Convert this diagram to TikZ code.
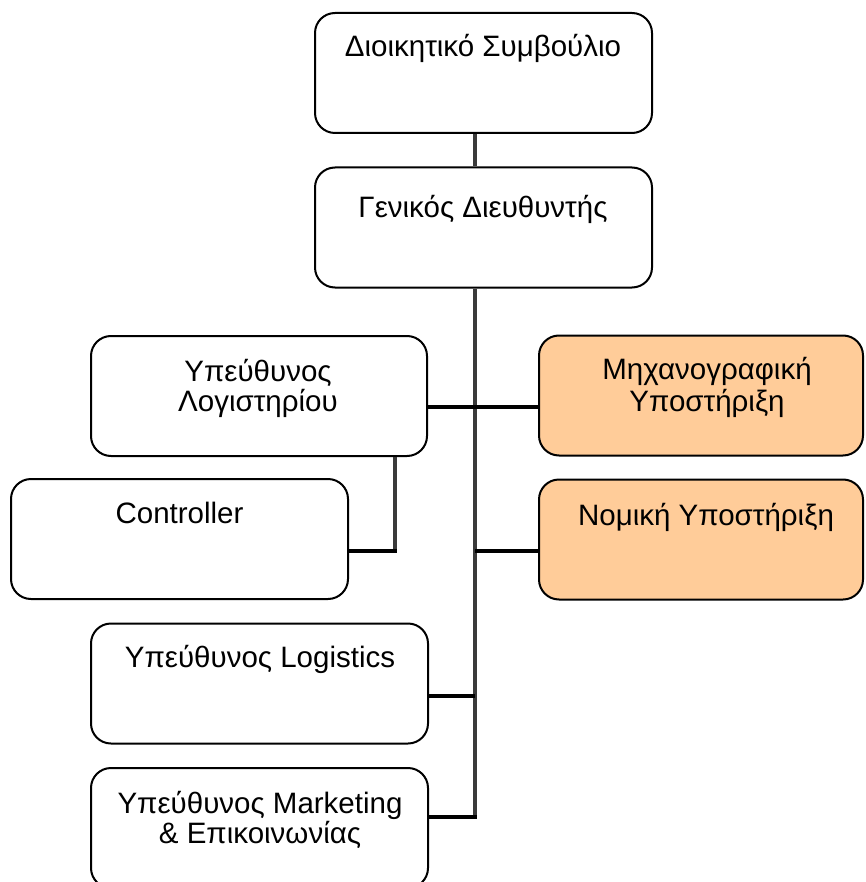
\documentclass[tikz,border=0pt]{standalone}
\usepackage{fontspec}
\setmainfont{Liberation Sans}
\definecolor{boxorange}{HTML}{FFCC99}
\definecolor{linegray}{HTML}{3A3A3A}
\tikzset{
  orgbox/.style={draw=black, line width=2pt, rounded corners=20pt, fill=white,
    inner sep=0pt, minimum width=#1, minimum height=120pt},
  orgbox/.default=337pt,
  orangebox/.style={orgbox=324pt, fill=boxorange},
  lbl/.style={anchor=base, inner sep=0pt, font=\fontsize{29.5}{30}\selectfont},
  vline/.style={draw=linegray, line width=4pt},
  hline/.style={draw=black, line width=4pt}
}
\begin{document}
\begin{tikzpicture}[x=1pt,y=-1pt]
\useasboundingbox (0,0) rectangle (865,882);
% boxes
\node[orgbox] (b1) at (483.5,73) {};
\node[orgbox] (b2) at (483.5,227.5) {};
\node[orgbox=336pt] (b3) at (259,396) {};
\node[orangebox] (b4) at (701,395.5) {};
\node[orgbox] (b5) at (179.5,539) {};
\node[orangebox] (b6) at (701,539.5) {};
\node[orgbox] (b7) at (259.5,683.5) {};
\node[orgbox] (b8) at (259.5,828) {};
% labels
\node[lbl] (t1) at (483,57) {Διοικητικό Συμβούλιο};
\node[lbl] (t2) at (483,218) {Γενικός Διευθυντής};
\node[lbl] (t3a) at (258,381) {Υπεύθυνος};
\node[lbl] (t3b) at (258,411) {Λογιστηρίου};
\node[lbl] (t4a) at (707,379) {Μηχανογραφική};
\node[lbl] (t4b) at (707,411) {Υποστήριξη};
\node[lbl] (t5) at (179.5,523) {Controller};
\node[lbl] (t6) at (706,525) {Νομική Υποστήριξη};
\node[lbl] (t7) at (260,667) {Υπεύθυνος Logistics};
\node[lbl] (t8a) at (260,813) {Υπεύθυνος Marketing};
\node[lbl] (t8b) at (260,843) {\& Επικοινωνίας};
% helper coordinates
\coordinate (tx) at (474.5,0);
\coordinate (cx) at (395,0);
\coordinate (h1) at (0,407);
\coordinate (h2) at (0,551);
\coordinate (h3) at (0,696);
\coordinate (h4) at (0,817);
% connectors
\draw[vline] (b1.south -| tx) -- (b2.north -| tx);
\draw[vline] (b2.south -| tx) -- ([yshift=2pt]tx |- h4);
\draw[hline] (b3.east |- h1) -- (b4.west |- h1);
\draw[hline] (tx |- h2) -- (b6.west |- h2);
\draw[hline] (b7.east |- h3) -- (tx |- h3);
\draw[hline] (b8.east |- h4) -- ([xshift=2pt]tx |- h4);
\draw[vline] (b3.south -| cx) -- ([yshift=2pt]cx |- h2);
\draw[hline] (b5.east |- h2) -- ([xshift=2pt]cx |- h2);
\end{tikzpicture}
\end{document}
